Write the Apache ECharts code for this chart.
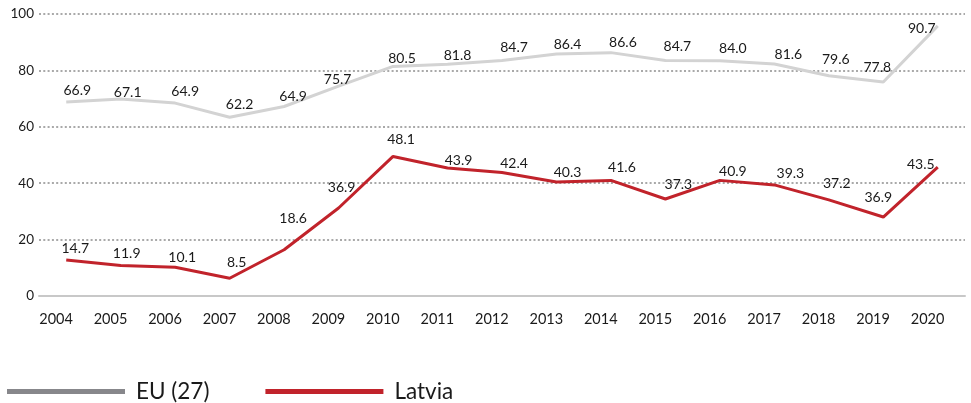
<!DOCTYPE html>
<html>
<head>
<meta charset="utf-8">
<script src="https://cdn.jsdelivr.net/npm/echarts@6/dist/echarts.min.js"></script>
<style>
  html, body { margin: 0; padding: 0; background: #fff; }
  #chart { width: 971px; height: 403px; }
</style>
</head>
<body>
<div id="chart"></div>
<script>
const years = ['2004', '2005', '2006', '2007', '2008', '2009', '2010', '2011', '2012',
  '2013', '2014', '2015', '2016', '2017', '2018', '2019', '2020'];

// where the lines are drawn
const euLine = [68.8, 69.9, 68.4, 63.4, 67.2, 74.4, 81.4, 82.2, 83.5, 85.8, 86.3, 83.5, 83.4, 82.3, 78.1, 75.9, 95.8];
const lvLine = [12.8, 10.8, 10.2, 6.3, 16.4, 31.2, 49.5, 45.4, 43.8, 40.4, 41.0, 34.4, 41.0, 39.4, 34.1, 28.0, 45.7];

// the printed value labels
const euLabels = ['66.9', '67.1', '64.9', '62.2', '64.9', '75.7', '80.5', '81.8', '84.7', '86.4', '86.6', '84.7', '84.0', '81.6', '79.6', '77.8', '90.7'];
const lvLabels = ['14.7', '11.9', '10.1', '8.5', '18.6', '36.9', '48.1', '43.9', '42.4', '40.3', '41.6', '37.3', '40.9', '39.3', '37.2', '36.9', '43.5'];

const yTicks = [0, 20, 40, 60, 80, 100];

// label nudges (px) so the labels sit off the line like in the original
const euNudge = [[11, 1], [7, 6], [10, 0], [10, -1], [9, 2], [-1, 5], [9, 4], [10, 3], [12, -1],
  [11, 2], [12, 2], [12, -2], [13, 0], [14, 3], [7, -4], [-6, -2], [-16, 15]];
const lvNudge = [[9, 1], [6, 0], [7, 2], [7, -4], [9, -19], [3, -9], [8, -5], [11, 5], [12, 3],
  [11, 2], [11, -1], [13, -3], [13, 3], [16, 1], [8, -4], [-5, -8], [-17, 9]];

const FONT = 'Lato';
const chart = echarts.init(document.getElementById('chart'), null, { renderer: 'canvas' });

const withNudge = (arr, nudge) => arr.map((v, i) => ({ value: v, label: { offset: nudge[i] } }));

const labelStyle = {
  show: true,
  position: 'top',
  fontFamily: FONT,
  fontSize: 14,
  color: '#1a1a1a'
};

const option = {
  animation: false,
  grid: { left: 39, right: 6, top: 14, bottom: 107 },
  legend: {
    left: 7,
    top: 380,
    padding: 0,
    icon: 'rect',
    itemWidth: 118,
    itemHeight: 5,
    itemGap: 56,
    textStyle: { fontFamily: FONT, fontSize: 22.5, color: '#1a1a1a', padding: [0, 0, 0, 6] },
    data: [
      { name: 'EU (27)', itemStyle: { color: '#87878b' } },
      { name: 'Latvia', itemStyle: { color: '#c1232b' } }
    ]
  },
  xAxis: {
    type: 'category',
    data: years,
    boundaryGap: true,
    axisLine: { lineStyle: { color: '#c8c8c8', width: 2 } },
    axisTick: { length: 12, lineStyle: { color: '#c8c8c8', width: 1 } },
    axisLabel: {
      interval: 0,
      margin: 16,
      formatter: v => '{a|' + v + '}',
      rich: { a: { width: 54, align: 'left', fontFamily: FONT, fontSize: 14.5, color: '#1a1a1a' } }
    }
  },
  yAxis: {
    type: 'value',
    min: yTicks[0],
    max: yTicks[yTicks.length - 1],
    interval: 20,
    axisLine: { show: false },
    axisTick: { show: false },
    axisLabel: { margin: 5, fontFamily: FONT, fontSize: 13.5, color: '#1a1a1a' },
    splitLine: { lineStyle: { color: '#a9a9a9', width: 2, type: [2, 2.3] } }
  },
  series: [
    {
      name: 'EU (27)',
      type: 'line',
      data: withNudge(euLine, euNudge),
      symbolSize: 0,
      itemStyle: { color: '#87878b' },
      lineStyle: { color: '#d3d3d3', width: 3 },
      label: Object.assign({}, labelStyle, { formatter: p => euLabels[p.dataIndex] }),
      z: 2
    },
    {
      name: 'Latvia',
      type: 'line',
      data: withNudge(lvLine, lvNudge),
      symbolSize: 0,
      itemStyle: { color: '#c1232b' },
      lineStyle: { color: '#c1232b', width: 3 },
      label: Object.assign({}, labelStyle, { formatter: p => lvLabels[p.dataIndex] }),
      z: 3
    }
  ]
};

chart.setOption(option);
</script>
</body>
</html>
